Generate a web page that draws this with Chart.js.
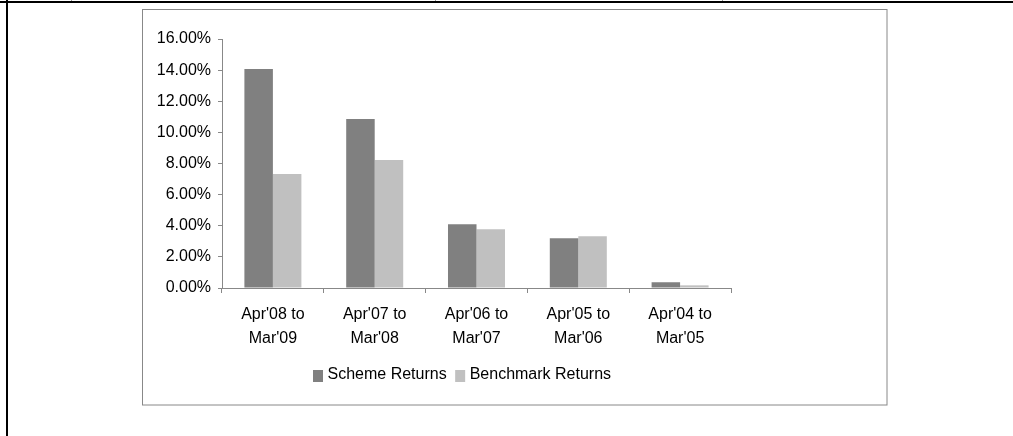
<!DOCTYPE html>
<html>
<head>
<meta charset="utf-8">
<script src="https://cdn.jsdelivr.net/npm/chart.js@4.4.0/dist/chart.umd.min.js"></script>
<style>
  html, body { margin:0; padding:0; background:#fff; }
  #wrap { position:relative; width:1013px; height:436px; }
</style>
</head>
<body>
<div id="wrap"><canvas id="c" width="1013" height="436"></canvas></div>
<script>
// data (percent)
const categories = [["Apr'08 to","Mar'09"],["Apr'07 to","Mar'08"],["Apr'06 to","Mar'07"],["Apr'05 to","Mar'06"],["Apr'04 to","Mar'05"]];
const schemeReturns = [14.08, 10.86, 4.10, 3.20, 0.37];
const benchmarkReturns = [7.32, 8.22, 3.78, 3.33, 0.17];
const seriesNames = ['Scheme Returns', 'Benchmark Returns'];
const seriesColors = ['#808080', '#c0c0c0'];
const yMin = 0, yMax = 16, yStep = 2;

const FONT = "'Liberation Sans', Arial, sans-serif";
const axisGrey = '#888888';

// page frame + inner chart box
const framePlugin = {
  id: 'frame',
  beforeDraw(chart){
    const ctx = chart.ctx;
    ctx.save();
    ctx.fillStyle = '#fff';
    ctx.fillRect(0, 0, chart.width, chart.height);
    ctx.fillStyle = '#000';
    ctx.fillRect(0, 1, chart.width, 2);
    ctx.fillRect(6, 0, 2, chart.height);
    ctx.fillStyle = '#999';
    [71, 435, 722].forEach(x=>ctx.fillRect(x, 0, 1, 1));
    ctx.strokeStyle = axisGrey;
    ctx.lineWidth = 1;
    ctx.strokeRect(142.5, 9.5, 744.5, 395.5);
    ctx.restore();
  }
};

// legend drawn the way the original sits: small square right against the text
const legendPlugin = {
  id: 'miniLegend',
  afterDraw(chart){
    const ctx = chart.ctx;
    ctx.save();
    ctx.font = '16px ' + FONT;
    ctx.textBaseline = 'alphabetic';
    let x = 313;
    chart.data.datasets.forEach(ds=>{
      ctx.fillStyle = ds.backgroundColor;
      ctx.fillRect(x, 370, 10, 12);
      x += 14.5;
      ctx.fillStyle = '#000';
      ctx.fillText(ds.label, x, 378.5);
      x += ctx.measureText(ds.label).width + 8.5;
    });
    ctx.restore();
  }
};

new Chart(document.getElementById('c'), {
  type: 'bar',
  data: {
    labels: categories,
    datasets: [
      { label: seriesNames[0], data: schemeReturns, backgroundColor: seriesColors[0] },
      { label: seriesNames[1], data: benchmarkReturns, backgroundColor: seriesColors[1] }
    ]
  },
  options: {
    responsive: false,
    animation: false,
    devicePixelRatio: 1,
    layout: { padding: { left: 142, right: 282, top: 39, bottom: 88 } },
    datasets: { bar: { categoryPercentage: 0.56, barPercentage: 1.0, borderWidth: 0 } },
    plugins: { legend: { display: false }, tooltip: { enabled: false } },
    scales: {
      x: {
        grid: { display: true, drawOnChartArea: false, drawTicks: true, tickLength: 5, color: axisGrey, offset: true },
        border: { color: axisGrey, width: 1 },
        ticks: { color: '#000', font: { family: FONT, size: 16, lineHeight: 1.52 }, padding: 9, maxRotation: 0, autoSkip: false },
        afterFit: s=>{ s.height = 60; }
      },
      y: {
        min: yMin, max: yMax,
        grid: { display: true, drawOnChartArea: false, drawTicks: true, tickLength: 4, color: axisGrey },
        border: { color: axisGrey, width: 1 },
        ticks: { stepSize: yStep, color: '#000', font: { family: FONT, size: 16 }, padding: 7,
                 callback: v=>v.toFixed(2) + '%' },
        afterFit: s=>{ s.width = 80; }
      }
    }
  },
  plugins: [framePlugin, legendPlugin]
});
</script>
</body>
</html>
